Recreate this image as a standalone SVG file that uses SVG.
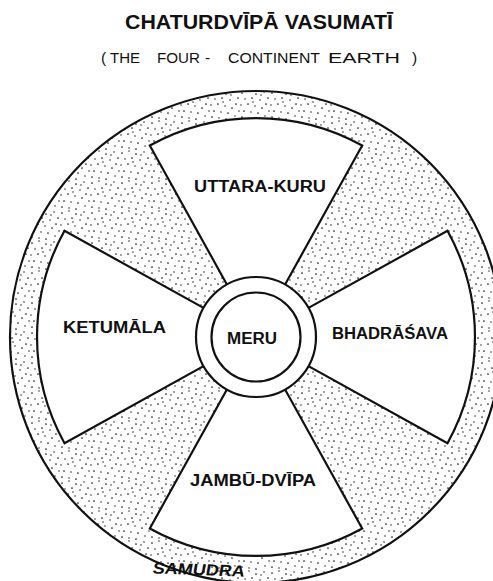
<svg xmlns="http://www.w3.org/2000/svg" width="493" height="581" viewBox="0 0 493 581">
<defs>
<pattern id="dots" width="30" height="30" patternUnits="userSpaceOnUse">
<g fill="#1a1a1a">
<circle cx="2" cy="3" r="0.85"/><circle cx="9" cy="1" r="0.75"/><circle cx="16" cy="4" r="0.85"/><circle cx="24" cy="2" r="0.75"/><circle cx="28" cy="8" r="0.85"/><circle cx="5" cy="9" r="0.75"/><circle cx="12" cy="8" r="0.85"/><circle cx="20" cy="10" r="0.75"/><circle cx="26" cy="14" r="0.85"/><circle cx="1" cy="15" r="0.75"/><circle cx="8" cy="14" r="0.85"/><circle cx="15" cy="16" r="0.75"/><circle cx="22" cy="18" r="0.85"/><circle cx="29" cy="21" r="0.75"/><circle cx="4" cy="21" r="0.85"/><circle cx="11" cy="22" r="0.75"/><circle cx="18" cy="23" r="0.85"/><circle cx="25" cy="26" r="0.75"/><circle cx="2" cy="27" r="0.85"/><circle cx="9" cy="28" r="0.75"/><circle cx="16" cy="29" r="0.85"/><circle cx="21" cy="5" r="0.75"/><circle cx="13" cy="12" r="0.75"/>
</g>
</pattern>
</defs>
<style>
.ln{stroke:#111;stroke-width:2.2;stroke-linejoin:miter}
.land{fill:#fff}
.lbl{font-family:"Liberation Sans",Arial,sans-serif;font-weight:bold;font-size:16px;fill:#111;text-anchor:middle}
.title{font-family:"Liberation Sans",Arial,sans-serif;fill:#111}
</style>
<rect width="493" height="581" fill="#fff"/>
<g id="title">
<text class="title" x="259" y="29" font-size="20" font-weight="bold" text-anchor="middle" textLength="268" lengthAdjust="spacingAndGlyphs">CHATURDVĪPĀ VASUMATĪ</text>
<text class="title" y="63" font-size="15.5"><tspan x="101">(</tspan><tspan x="110" textLength="30" lengthAdjust="spacingAndGlyphs">THE</tspan><tspan x="157" textLength="43" lengthAdjust="spacingAndGlyphs">FOUR</tspan><tspan x="205">-</tspan><tspan x="228" textLength="92" lengthAdjust="spacingAndGlyphs">CONTINENT</tspan><tspan x="328" textLength="72" lengthAdjust="spacingAndGlyphs">EARTH</tspan><tspan x="412">)</tspan></text>
</g>
<g id="samudra">
<circle cx="256" cy="337" r="246" fill="url(#dots)" class="ln"/>
<text class="lbl" font-size="17" text-anchor="start" transform="translate(198,575) rotate(2) skewX(-8)" textLength="92" lengthAdjust="spacingAndGlyphs">SAMUDRA</text>
</g>
<g id="uttara-kuru">
<path class="ln land" d="M226.9,284.5 L149.8,145.5 A219,219 0 0 1 362.2,145.5 L285.1,284.5 Z"/>
<text class="lbl" x="260" y="192" textLength="132" lengthAdjust="spacingAndGlyphs">UTTARA-KURU</text>
</g>
<g id="jambu-dvipa">
<path class="ln land" d="M226.9,389.5 L149.8,528.5 A219,219 0 0 0 362.2,528.5 L285.1,389.5 Z"/>
<text class="lbl" x="253" y="486" textLength="126" lengthAdjust="spacingAndGlyphs">JAMBŪ-DVĪPA</text>
</g>
<g id="ketumala">
<path class="ln land" d="M203.5,307.9 L64.5,230.8 A219,219 0 0 0 64.5,443.2 L203.5,366.1 Z"/>
<text class="lbl" x="114.5" y="333" textLength="103" lengthAdjust="spacingAndGlyphs">KETUMĀLA</text>
</g>
<g id="bhadrasava">
<path class="ln land" d="M308.5,307.9 L447.5,230.8 A219,219 0 0 1 447.5,443.2 L308.5,366.1 Z"/>
<text class="lbl" x="390" y="339" textLength="116" lengthAdjust="spacingAndGlyphs">BHADRĀŚAVA</text>
</g>
<g id="meru">
<circle cx="256" cy="337" r="60" class="ln land"/>
<circle cx="256" cy="337" r="44.5" class="ln" fill="none"/>
<text class="lbl" x="252" y="344" textLength="50" lengthAdjust="spacingAndGlyphs">MERU</text>
</g>
</svg>
